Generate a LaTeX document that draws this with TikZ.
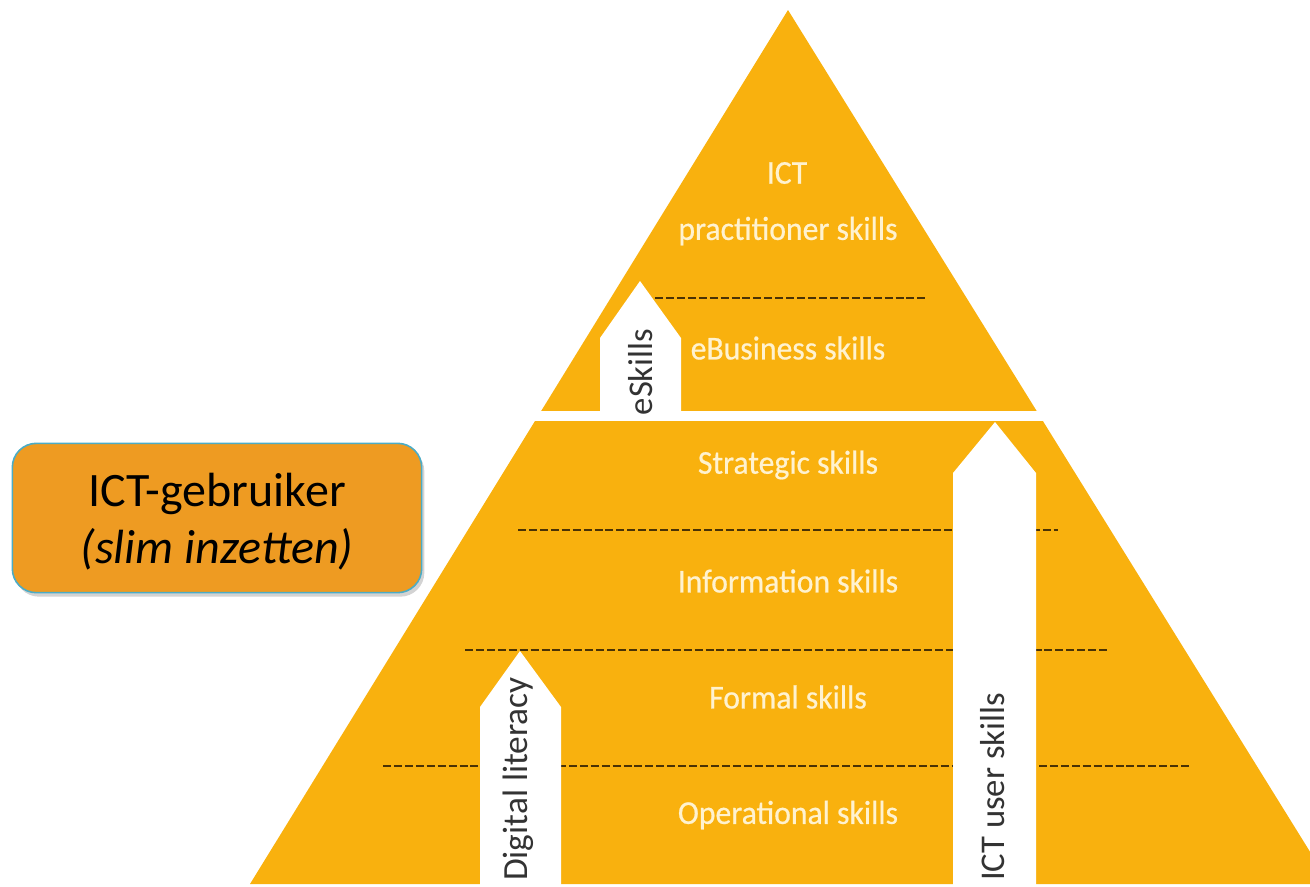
\documentclass[tikz,border=0pt]{standalone}
\usepackage{fontspec}
\setmainfont{Carlito}
\newfontfamily\levelfont[FakeStretch=0.95,FakeBold=0.6]{Carlito}
\usetikzlibrary{shadows}
\definecolor{pyr}{HTML}{F9B10E}
\definecolor{boxfill}{HTML}{EE9B22}
\definecolor{boxline}{HTML}{4BACC6}
\definecolor{pyrtext}{HTML}{FFF2CF}
\definecolor{dashcol}{HTML}{4A3205}
\definecolor{arrowtext}{HTML}{333333}
\begin{document}
\begin{tikzpicture}[x=0.75pt,y=-0.75pt,
  level/.style={text=pyrtext, font=\levelfont\fontsize{25}{28}\selectfont, inner sep=0pt},
  arrowlabel/.style={text=arrowtext, rotate=90, inner sep=0pt, font=\fontsize{26}{28}\selectfont},
  sepline/.style={draw=dashcol, line width=1.9pt, dash pattern=on 6pt off 2.2pt},
  uparrow/.style={fill=white},
  userbox/.style={draw=boxline, line width=1.2pt, fill=boxfill, rounded corners=18pt,
    minimum width=307pt, minimum height=112pt,
    drop shadow={shadow xshift=2pt, shadow yshift=-3pt, opacity=0.35}},
  boxtext/.style={text=black, inner sep=0pt, font=\fontsize{36}{40}\selectfont}
]
\useasboundingbox (0,0) rectangle (1310,886);
\begin{scope}
\clip (0,0) rectangle (1310,886);
% pyramid
\fill[pyr] (788,10) -- (1330,884) -- (250,884) -- cycle;
\fill[white] (0,411) rectangle (1310,421);
% separators
\coordinate (s1a) at (655,298); \coordinate (s1b) at (925,298);
\coordinate (s2a) at (518,530); \coordinate (s2b) at (1058,530);
\coordinate (s3a) at (465,650); \coordinate (s3b) at (1110,650);
\coordinate (s4a) at (383,766); \coordinate (s4b) at (1192,766);
\draw[sepline] (s1a) -- (s1b);
\draw[sepline] (s2a) -- (s2b);
\draw[sepline] (s3a) -- (s3b);
\draw[sepline] (s4a) -- (s4b);
% white arrows
\fill[uparrow] (600,412) -- (600,338) -- (640,281) -- (681,338) -- (681,412) -- cycle;
\fill[uparrow] (480,887) -- (480,707) -- (520,651) -- (561,707) -- (561,887) -- cycle;
\fill[uparrow] (953,887) -- (953,473) -- (995,422) -- (1036,473) -- (1036,887) -- cycle;
\end{scope}
% level labels
\node[level] (ict) at (787,173) {ICT};
\node[level] (prac) at (788,231) {practitioner skills};
\node[level] (ebus) at (788,348) {eBusiness skills};
\node[level] (strat) at (788,465) {Strategic skills};
\node[level] (info) at (788,581) {Information skills};
\node[level] (formal) at (788,697) {Formal skills};
\node[level] (oper) at (788,815) {Operational skills};
% arrow labels
\node[arrowlabel] (eskills) at (641,372) {eSkills};
\node[arrowlabel, font=\fontsize{26.5}{28}\selectfont] (diglit) at (518,779) {Digital literacy};
\node[arrowlabel] (userskills) at (993,787) {ICT user skills};
% user box
\node[userbox] (box) at (217,518) {};
\node[boxtext] (boxl1) at (217,494) {ICT-gebruiker};
\node[boxtext, font=\fontsize{36}{40}\selectfont\itshape] (boxl2) at (217,549) {(slim inzetten)};
\end{tikzpicture}
\end{document}
